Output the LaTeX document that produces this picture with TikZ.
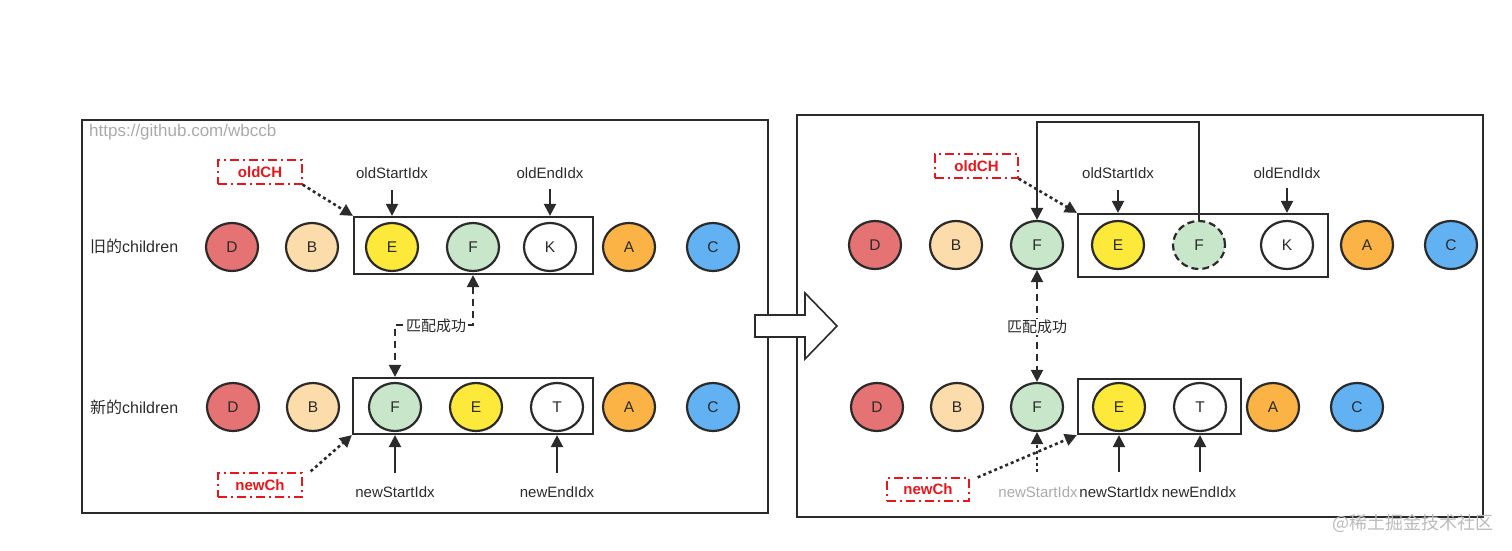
\documentclass[tikz,border=0pt]{standalone}
\usepackage{fontspec}
\setmainfont{Liberation Sans}
\newfontfamily\cjk{Noto Sans CJK SC}
\usetikzlibrary{shapes.geometric,arrows.meta,calc}
\definecolor{ink}{HTML}{2B2B2B}
\definecolor{cD}{HTML}{E57373}
\definecolor{cB}{HTML}{FDDCAB}
\definecolor{cE}{HTML}{FDE93A}
\definecolor{cF}{HTML}{C8E6C9}
\definecolor{cA}{HTML}{FBB345}
\definecolor{cC}{HTML}{62B1F2}
\definecolor{redlbl}{HTML}{E8161B}
\definecolor{wm}{HTML}{AAAAAA}
\begin{document}
\begin{tikzpicture}[x=1pt,y=-1pt,
  ball/.style={ellipse,draw=ink,line width=2.2pt,minimum width=52pt,minimum height=48pt,inner sep=0pt,font=\fontsize{15.5}{17}\selectfont,text=ink},
  grp/.style={draw=ink,line width=2.2pt,inner sep=0pt},
  panel/.style={draw=ink,line width=2.2pt},
  lbl/.style={font=\fontsize{15}{17}\selectfont,text=ink,inner sep=1pt},
  redbox/.style={draw=redlbl,line width=1.3pt,dash pattern=on 9pt off 4pt on 2pt off 4pt,text=redlbl,font=\bfseries\fontsize{15}{17}\selectfont,minimum width=84pt,minimum height=24pt,inner sep=0pt},
  tip/.style={-{Triangle[width=12pt,length=12pt]}},
  conn/.style={draw=ink,line width=2.2pt},
  dots/.style={draw=ink,line width=2.6pt,dash pattern=on 3pt off 3pt},
  matchline/.style={draw=ink,line width=2.2pt,dash pattern=on 7pt off 5pt},
]
\useasboundingbox (0,0) rectangle (1512,551);

% panels
\draw[panel] (82,120) rectangle (768,513);
\draw[panel] (797,115) rectangle (1483,517);
% big hollow arrow
\draw[draw=ink,line width=1.6pt,fill=white] (755,315) -- (805,315) -- (805,293) -- (837,326) -- (805,359) -- (805,337) -- (755,337) -- cycle;

% watermark texts
\node[anchor=west,text=wm,font=\fontsize{17}{19}\selectfont,inner sep=0pt] (url) at (89,132) {https://github.com/wbccb};
\node[anchor=east,text=wm!80,font=\cjk\fontsize{18}{20}\selectfont,inner sep=0pt] (jj) at (1494,523) {@稀土掘金技术社区};

% ===== left panel =====
\node[anchor=west,lbl,font=\fontsize{16}{18}\selectfont] (oldlbl) at (89,246) {{\cjk 旧的}children};
\node[anchor=west,lbl,font=\fontsize{16}{18}\selectfont] (newlbl) at (89,407) {{\cjk 新的}children};

\node[grp,minimum width=239pt,minimum height=57pt] (boxO) at (473.5,245.5) {};
\node[grp,minimum width=240pt,minimum height=56pt] (boxN) at (473,406) {};

\node[ball,fill=cD] (D1) at (232,247) {D};
\node[ball,fill=cB] (B1) at (312,247) {B};
\node[ball,fill=cE] (E1) at (392,247) {E};
\node[ball,fill=cF] (F1) at (473,247) {F};
\node[ball,fill=white] (K1) at (550,247) {K};
\node[ball,fill=cA] (A1) at (629,247) {A};
\node[ball,fill=cC] (C1) at (713,247) {C};

\node[ball,fill=cD] (D1b) at (233,407) {D};
\node[ball,fill=cB] (B1b) at (313,407) {B};
\node[ball,fill=cF] (F1b) at (395,407) {F};
\node[ball,fill=cE] (E1b) at (476,407) {E};
\node[ball,fill=white] (T1b) at (557,407) {T};
\node[ball,fill=cA] (A1b) at (629,407) {A};
\node[ball,fill=cC] (C1b) at (713,407) {C};

\node[lbl] (os1) at (392,173) {oldStartIdx};
\node[lbl] (oe1) at (550,173) {oldEndIdx};
\coordinate (os1a) at (392,190);
\coordinate (oe1a) at (550,189);
\draw[conn,tip] (os1a) -- (os1a |- boxO.north);
\draw[conn,tip] (oe1a) -- (oe1a |- boxO.north);

\node[lbl] (ns1) at (395,492) {newStartIdx};
\node[lbl] (ne1) at (557,492) {newEndIdx};
\coordinate (ns1a) at (395,473);
\coordinate (ne1a) at (557,473);
\draw[conn,tip] (ns1a) -- (ns1a |- boxN.south);
\draw[conn,tip] (ne1a) -- (ne1a |- boxN.south);

\node[redbox] (oc1) at (260,172) {oldCH};
\node[redbox] (nc1) at (260,485) {newCh};
\draw[dots,tip] (oc1.south east) -- (boxO.north west);
\draw[dots,tip] ($(nc1.north east)+(8,-1)$) -- (boxN.south west);

\coordinate (m1) at (473,325);
\draw[matchline,{Triangle[width=12pt,length=12pt]}-{Triangle[width=12pt,length=12pt]}] (F1 |- boxO.south) -- (m1) -- (F1b |- m1) -- (F1b |- boxN.north);
\node[lbl,fill=white,font=\cjk\fontsize{15}{17}\selectfont,inner sep=1.5pt] (ok1) at (436,326) {匹配成功};

% ===== right panel =====
\node[grp,minimum width=250pt,minimum height=63pt] (boxO2) at (1203,245.5) {};
\node[grp,minimum width=163pt,minimum height=55pt] (boxN2) at (1159.5,406.5) {};

\node[ball,fill=cD] (D2) at (875,245) {D};
\node[ball,fill=cB] (B2) at (956,245) {B};
\node[ball,fill=cF] (F2) at (1037,245) {F};
\node[ball,fill=cE] (E2) at (1118,245) {E};
\node[ball,fill=cF,dash pattern=on 7pt off 4pt] (Fd2) at (1199,245) {F};
\node[ball,fill=white] (K2) at (1287,245) {K};
\node[ball,fill=cA] (A2) at (1367,245) {A};
\node[ball,fill=cC] (C2) at (1451,245) {C};

\node[ball,fill=cD] (D2b) at (877,407) {D};
\node[ball,fill=cB] (B2b) at (957,407) {B};
\node[ball,fill=cF] (F2b) at (1037,407) {F};
\node[ball,fill=cE] (E2b) at (1119,407) {E};
\node[ball,fill=white] (T2b) at (1200,407) {T};
\node[ball,fill=cA] (A2b) at (1273,407) {A};
\node[ball,fill=cC] (C2b) at (1357,407) {C};

\coordinate (loopTR) at (1199,122);
\draw[conn,tip] (Fd2.north) -- (loopTR) -| (F2.north);

\node[lbl] (os2) at (1118,173) {oldStartIdx};
\node[lbl] (oe2) at (1287,173) {oldEndIdx};
\coordinate (os2a) at (1118,190);
\coordinate (oe2a) at (1287,188);
\draw[conn,tip] (os2a) -- (os2a |- boxO2.north);
\draw[conn,tip] (oe2a) -- (oe2a |- boxO2.north);

\node[lbl] (ns2) at (1119,492) {newStartIdx};
\node[lbl] (ne2) at (1199,492) {newEndIdx};
\node[lbl,text=wm] (ns2g) at (1038,492) {newStartIdx};
\coordinate (ns2a) at (1119,472);
\coordinate (ne2a) at (1200,472);
\coordinate (ns2ga) at (1037,472);
\draw[conn,tip] (ns2a) -- (ns2a |- boxN2.south);
\draw[conn,tip] (ne2a) -- (ne2a |- boxN2.south);
\draw[dots,line width=2.2pt,tip] (ns2ga) -- (F2b.south);

\node[redbox,minimum width=83pt] (oc2) at (976.5,166) {oldCH};
\node[redbox,minimum width=82pt,minimum height=23pt] (nc2) at (928,489.5) {newCh};
\draw[dots,tip] (oc2.south east) -- (boxO2.north west);
\draw[dots,tip] ($(nc2.north east)+(8,0)$) -- (boxN2.south west);

\draw[matchline,{Triangle[width=12pt,length=12pt]}-{Triangle[width=12pt,length=12pt]}] (F2.south) -- (F2b.north);
\node[lbl,fill=white,font=\cjk\fontsize{15}{17}\selectfont,inner sep=1.5pt] (ok2) at (1037,327) {匹配成功};

\end{tikzpicture}
\end{document}
